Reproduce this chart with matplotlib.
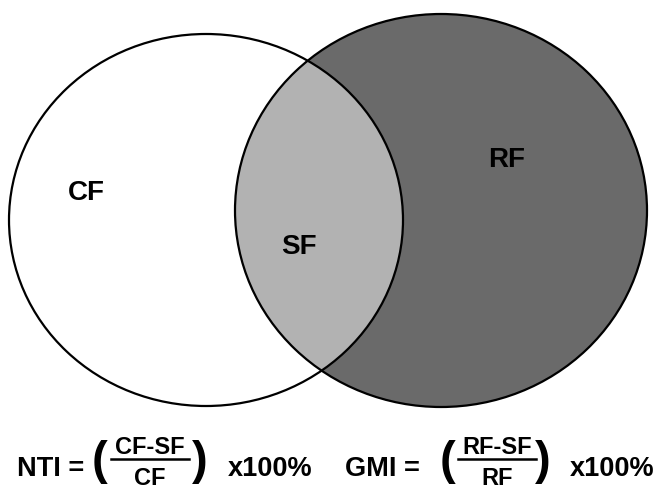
import matplotlib
matplotlib.use("Agg")
import matplotlib.pyplot as plt
from matplotlib.patches import Ellipse

# region labels and their fills
labels = ["CF", "SF", "RF"]
fills = ["white", "#b2b2b2", "#6a6a6a"]

# index formulas: name, numerator, denominator
formula_names = ["NTI =", "GMI ="]
numerators = ["CF-SF", "RF-SF"]
denominators = ["CF", "RF"]
suffix = "x100%"

plt.rcParams["font.family"] = ["Liberation Sans", "DejaVu Sans"]
plt.rcParams["font.weight"] = "bold"

fig = plt.figure(figsize=(6.58, 4.90), dpi=100)
ax = fig.add_axes([0, 0, 1, 1])
ax.set_xlim(0, 658)
ax.set_ylim(490, 0)
ax.axis("off")

lw = 1.6
left = dict(xy=(206, 220), width=394, height=372)
right = dict(xy=(441, 210.5), width=412, height=393)

ax.add_patch(Ellipse(**left, facecolor=fills[0], edgecolor="none"))
ax.add_patch(Ellipse(**right, facecolor=fills[2], edgecolor="none"))
# overlap: left ellipse clipped to the right one
clip = Ellipse(**right, facecolor="none", edgecolor="none")
ax.add_patch(clip)
inter = Ellipse(**left, facecolor=fills[1], edgecolor="none")
ax.add_patch(inter)
inter.set_clip_path(clip)
ax.add_patch(Ellipse(**left, facecolor="none", edgecolor="black", lw=lw))
ax.add_patch(Ellipse(**right, facecolor="none", edgecolor="black", lw=lw))

label_pos = [(86, 193), (299, 247), (507, 160)]
for lab, (x, y) in zip(labels, label_pos):
    ax.text(x, y, lab, fontsize=20, fontweight="bold", ha="center", va="center")

# formulas along the bottom: (name x, paren x, fraction centre, paren x, suffix x)
layout = [(17, 99, 150, 200, 228), (345, 447, 497, 543, 570)]
for name, num, den, (nx, lp, cx, rp, sx) in zip(formula_names, numerators,
                                                denominators, layout):
    ax.text(nx, 476, name, fontsize=19.5, fontweight="bold", ha="left", va="baseline")
    ax.text(lp, 462, "(", fontsize=34, fontweight="bold", ha="center", va="center")
    ax.text(cx, 454, num, fontsize=17, fontweight="bold", ha="center", va="baseline")
    ax.plot([cx - 39, cx + 39], [458.5, 458.5], color="black", lw=1.8)
    ax.text(cx, 489.5, den, fontsize=17, fontweight="bold", ha="center", va="bottom")
    ax.text(rp, 462, ")", fontsize=34, fontweight="bold", ha="center", va="center")
    ax.text(sx, 476, suffix, fontsize=19.5, fontweight="bold", ha="left", va="baseline")

fig.savefig("out.png", dpi=100)
